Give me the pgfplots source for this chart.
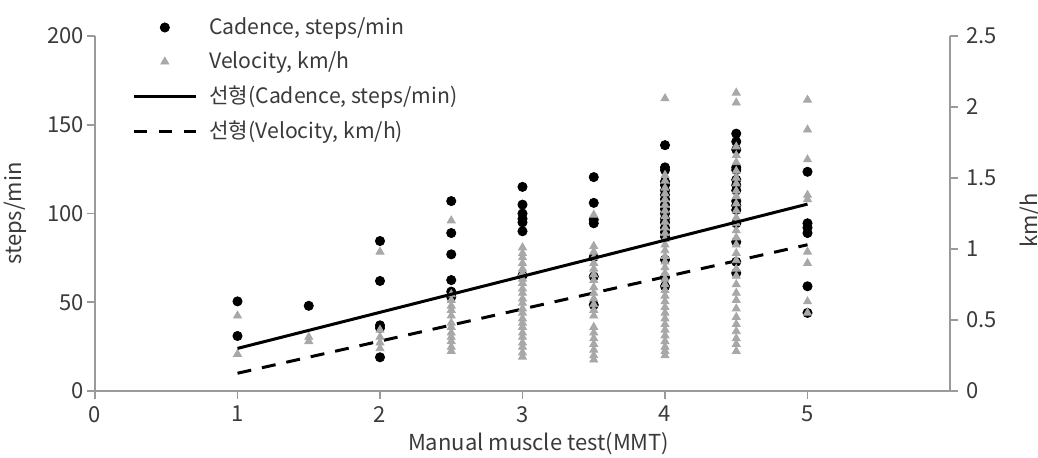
\documentclass[border=0pt]{standalone}
\usepackage{fontspec}
\setmainfont{Noto Sans CJK KR}
\usepackage{pgfplots}
\pgfplotsset{compat=1.18}

\definecolor{txt}{HTML}{3A3A3A}
\definecolor{axisgray}{HTML}{9A9A9A}
\definecolor{trigray}{HTML}{A8A8A8}

% Cadence (steps/min) by MMT grade
\pgfplotstableread{
x y
1 50.5
1 31
1.5 48
2 84.5
2 62
2 37
2 35.5
2 19
2.5 107
2.5 89
2.5 77
2.5 62.5
2.5 56
2.5 53
3 115
3 105
3 100
3 97
3 95
3 90
3 65
3.5 120.5
3.5 106
3.5 96.5
3.5 94.5
3.5 75.5
3.5 64.5
3.5 48.5
4 138.5
4 126
4 124.5
4 118
4 116
4 113
4 110.5
4 108
4 105
4 102.5
4 100
4 97
4 95
4 92
4 89.5
4 87
4 74
4 64
4 59
4.5 145
4.5 140.5
4.5 136
4.5 126
4.5 124.5
4.5 119
4.5 116
4.5 113
4.5 107
4.5 104.5
4.5 102
4.5 94.5
4.5 84
4.5 72.8
4.5 66.5
5 123.5
5 94.5
5 92
5 89
5 59
5 44
}\cadence

% Velocity (km/h) by MMT grade
\pgfplotstableread{
x y
1 0.53
1 0.26
1.5 0.38
1.5 0.35
2 0.98
2 0.43
2 0.38
2 0.34
2 0.30
2.5 1.20
2.5 0.68
2.5 0.64
2.5 0.60
2.5 0.57
2.5 0.53
2.5 0.48
2.5 0.45
2.5 0.41
2.5 0.38
2.5 0.35
2.5 0.31
2.5 0.28
3 1.01
3 0.97
3 0.94
3 0.90
3 0.86
3 0.83
3 0.79
3 0.76
3 0.72
3 0.69
3 0.65
3 0.62
3 0.58
3 0.55
3 0.51
3 0.48
3 0.45
3 0.41
3 0.38
3 0.34
3 0.31
3 0.27
3 0.24
3.5 1.24
3.5 1.02
3.5 0.98
3.5 0.94
3.5 0.90
3.5 0.86
3.5 0.82
3.5 0.78
3.5 0.73
3.5 0.69
3.5 0.65
3.5 0.61
3.5 0.57
3.5 0.53
3.5 0.45
3.5 0.41
3.5 0.37
3.5 0.33
3.5 0.29
3.5 0.25
3.5 0.22
4 2.06
4 1.52
4 1.48
4 1.43
4 1.39
4 1.35
4 1.31
4 1.27
4 1.23
4 1.19
4 1.15
4 1.11
4 1.07
4 1.03
4 0.99
4 0.95
4 0.91
4 0.87
4 0.83
4 0.79
4 0.75
4 0.71
4 0.67
4 0.63
4 0.59
4 0.55
4 0.51
4 0.47
4 0.43
4 0.39
4 0.35
4 0.31
4 0.28
4 0.25
4.5 2.10
4.5 2.03
4.5 1.72
4.5 1.66
4.5 1.61
4.5 1.55
4.5 1.50
4.5 1.46
4.5 1.41
4.5 1.37
4.5 1.32
4.5 1.27
4.5 1.22
4.5 1.18
4.5 1.13
4.5 1.08
4.5 1.03
4.5 0.97
4.5 0.92
4.5 0.86
4.5 0.81
4.5 0.75
4.5 0.69
4.5 0.64
4.5 0.58
4.5 0.52
4.5 0.47
4.5 0.42
4.5 0.37
4.5 0.33
4.5 0.28
5 2.05
5 1.84
5 1.63
5 1.38
5 1.35
5 0.98
5 0.90
5 0.63
5 0.55
}\velocity

\pgfplotsset{
  base/.style={
    scale only axis, width=427.5pt, height=177.5pt,
    at={(0,0)}, anchor=south west,
    xmin=0, xmax=6,
    font=\fontsize{11}{13}\selectfont,
    /pgf/number format/assume math mode=true,
    tick style={axisgray, line width=0.8pt},
    axis line style={axisgray, line width=0.9pt},
    tick align=outside, major tick length=4pt,
    ticklabel style={text=txt},
    every axis label/.append style={text=txt},
  },
  dotstyle/.style={only marks, mark=*, mark size=2.3pt, mark options={draw=black, fill=black}},
  tristyle/.style={only marks, mark=triangle*, mark size=2.3pt, mark options={draw=trigray, fill=trigray}},
}

\begin{document}
\begin{tikzpicture}
% left axis: cadence
\begin{axis}[base,
  ymin=0, ymax=200, ytick={0,50,...,200},
  xtick={0,...,5},
  axis x line*=bottom, axis y line*=left,
  xlabel={Manual muscle test(MMT)},
  ylabel={steps/min},
  every axis y label/.style={at={(axis description cs:-0.0936,0.5)}, rotate=90, anchor=center},
  every axis x label/.style={at={(axis description cs:0.519,0)}, anchor=base, yshift=-29.5pt},
  yticklabel style={xshift=2pt},
]
\addplot[dotstyle] table[x=x, y=y] {\cadence};
\end{axis}
% right axis: velocity
\begin{axis}[base,
  ymin=0, ymax=2.5, ytick={0,0.5,...,2.5},
  axis x line=none, axis y line*=right,
  ylabel={km/h},
  every axis y label/.style={at={(axis description cs:1.0947,0.48)}, rotate=90, anchor=center},
  yticklabel style={xshift=0.5pt},
]
\addplot[tristyle] table[x=x, y=y] {\velocity};
\addplot[black, line width=1.5pt, dash pattern=on 7pt off 5.5pt] coordinates {(1,0.125) (5,1.03)};
\end{axis}
% trend line for cadence and the legend
\begin{axis}[base, hide axis,
  ymin=0, ymax=200,
  legend image code/.code={\draw[#1,mark repeat=2,mark phase=2] plot coordinates {(0pt,0pt) (15.5pt,0pt) (31pt,0pt)};},
  legend style={draw=none, fill=none, at={(axis description cs:0.0362,1.07)}, anchor=north west,
    font=\fontsize{10.6}{12.5}\selectfont, text=txt, row sep=5.2pt, column sep=5pt,
    nodes={inner sep=1pt}},
  legend cell align=left,
]
\addlegendimage{dotstyle}
\addlegendentry{Cadence, steps/min}
\addlegendimage{tristyle}
\addlegendentry{Velocity, km/h}
\addplot[black, line width=1.5pt] coordinates {(1,24.0) (5,105.3)};
\addlegendentry{선형(Cadence, steps/min)}
\addlegendimage{black, line width=1.5pt, dash pattern=on 6.5pt off 6pt}
\addlegendentry{선형(Velocity, km/h)}
\end{axis}
\pgfresetboundingbox
\path (-47.5pt,-33pt) rectangle (471.5pt,195.5pt);
\end{tikzpicture}
\end{document}
